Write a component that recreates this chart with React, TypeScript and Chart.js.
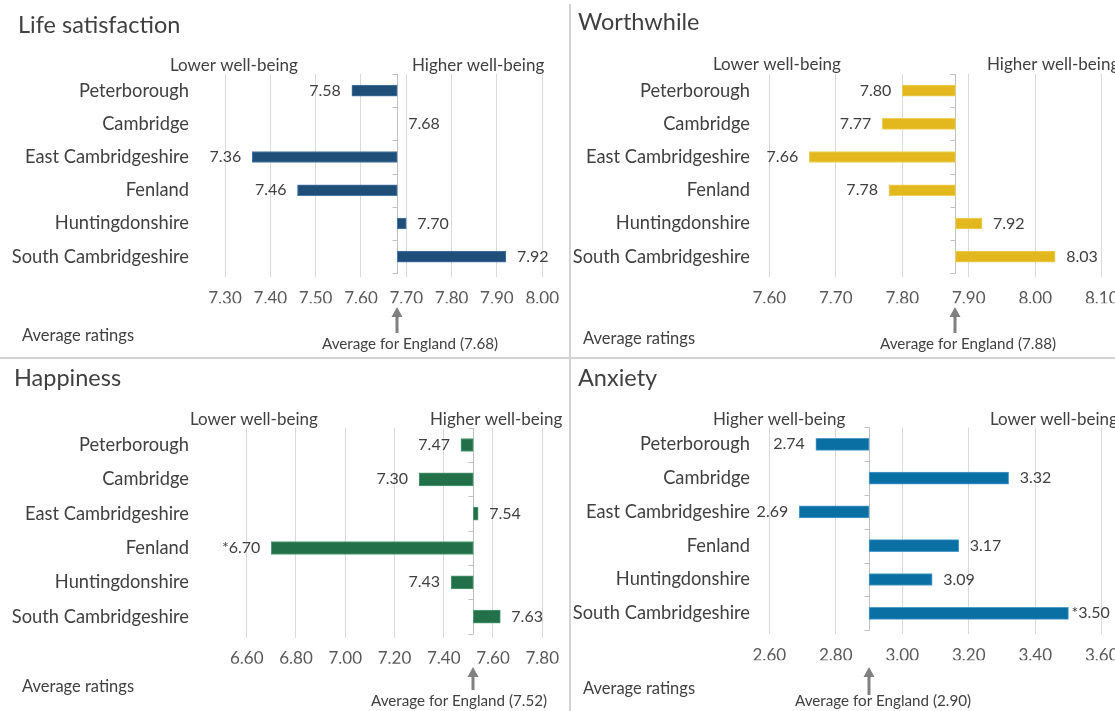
import React, { useEffect, useRef } from "react";
import { Chart, registerables } from "chart.js";

Chart.register(...registerables);

// ---------- data ----------
const districts = [
  "Peterborough",
  "Cambridge",
  "East Cambridgeshire",
  "Fenland",
  "Huntingdonshire",
  "South Cambridgeshire",
];

const lifeSatisfaction = [7.58, 7.68, 7.36, 7.46, 7.7, 7.92];
const worthwhile = [7.8, 7.77, 7.66, 7.78, 7.92, 8.03];
const happiness = [7.47, 7.3, 7.54, 6.7, 7.43, 7.63];
const anxiety = [2.74, 3.32, 2.69, 3.17, 3.09, 3.5];

const lifeEngland = 7.68;
const worthwhileEngland = 7.88;
const happinessEngland = 7.52;
const anxietyEngland = 2.9;

const noFlags = [false, false, false, false, false, false];
const happinessFlags = [false, false, false, true, false, false];
const anxietyFlags = [false, false, false, false, false, true];

// axis ranges: [min, max, step]
const lifeAxis = [7.3, 8.0, 0.1];
const worthwhileAxis = [7.6, 8.1, 0.1];
const happinessAxis = [6.6, 7.8, 0.2];
const anxietyAxis = [2.6, 3.6, 0.2];

const FONT = "Lato, 'Open Sans', sans-serif";
const TEXT = "#404040";

type PanelCfg = {
  title: string;
  values: number[];
  england: number;
  flags: boolean[];
  axis: number[];
  color: string;
  edge: string;
  leftText: string;
  rightText: string;
  left: number;
  top: number;
  width: number;
  height: number;
  area: { l: number; r: number; t: number; b: number };
  barThickness: number;
  titlePos: [number, number];
  leftTextPos: [number, number];
  rightTextPos: [number, number];
  catRight: number;
  avgPos: [number, number];
  engPos: [number, number];
  arrow: [number, number];
  flagGap: number;
};

function makeDecor(cfg: PanelCfg) {
  return {
    id: "decor",
    beforeDatasetsDraw(chart: any) {
      const { ctx, chartArea } = chart;
      const x = Math.round(chart.scales.x.getPixelForValue(cfg.england)) + 0.5;
      const n = chart.data.labels.length;
      const band = (chartArea.bottom - chartArea.top) / n;
      ctx.save();
      ctx.strokeStyle = "#bfbfbf";
      ctx.lineWidth = 1;
      ctx.beginPath();
      ctx.moveTo(x, chartArea.top);
      ctx.lineTo(x, chartArea.bottom);
      for (let i = 0; i <= n; i++) {
        const y = Math.round(chartArea.top + i * band) + 0.5;
        ctx.moveTo(x - 5, y);
        ctx.lineTo(x, y);
      }
      ctx.stroke();
      ctx.restore();
    },
    afterDraw(chart: any) {
      const { ctx } = chart;
      const xs = chart.scales.x;
      const ys = chart.scales.y;
      ctx.save();
      ctx.fillStyle = TEXT;
      ctx.textBaseline = "middle";

      // title
      ctx.font = `23.5px ${FONT}`;
      ctx.textAlign = "left";
      ctx.fillText(cfg.title, cfg.titlePos[0], cfg.titlePos[1]);

      // side texts
      ctx.font = `17px ${FONT}`;
      ctx.fillText(cfg.leftText, cfg.leftTextPos[0], cfg.leftTextPos[1]);
      ctx.fillText(cfg.rightText, cfg.rightTextPos[0], cfg.rightTextPos[1]);

      // category labels
      ctx.font = `18.3px ${FONT}`;
      ctx.textAlign = "right";
      districts.forEach((d, i) => {
        ctx.fillText(d, cfg.catRight, ys.getPixelForValue(i));
      });

      // value labels
      ctx.font = `16px ${FONT}`;
      const ex = xs.getPixelForValue(cfg.england);
      cfg.values.forEach((v, i) => {
        const y = ys.getPixelForValue(i);
        const px = xs.getPixelForValue(v);
        const label = (cfg.flags[i] ? "*" : "") + v.toFixed(2);
        if (v < cfg.england) {
          ctx.textAlign = "right";
          ctx.fillText(label, px - 11, y);
        } else {
          ctx.textAlign = "left";
          const gap = cfg.flags[i] ? cfg.flagGap : 11;
          ctx.fillText(label, Math.max(px, ex) + gap, y);
        }
      });

      // average ratings
      ctx.font = `16.5px ${FONT}`;
      ctx.textAlign = "left";
      ctx.fillText("Average ratings", cfg.avgPos[0], cfg.avgPos[1]);
      ctx.font = `15.2px ${FONT}`;
      ctx.fillText(
        `Average for England (${cfg.england.toFixed(2)})`,
        cfg.engPos[0],
        cfg.engPos[1]
      );

      // arrow
      const ax = Math.round(ex);
      const [tip, base] = cfg.arrow;
      ctx.fillStyle = "#808080";
      ctx.fillRect(ax - 1.5, tip + 8, 3, base - tip - 8);
      ctx.beginPath();
      ctx.moveTo(ax, tip);
      ctx.lineTo(ax - 5.5, tip + 10);
      ctx.lineTo(ax + 5.5, tip + 10);
      ctx.closePath();
      ctx.fill();
      ctx.restore();
    },
  };
}

function Panel({ cfg }: { cfg: PanelCfg }) {
  const ref = useRef<HTMLCanvasElement | null>(null);
  useEffect(() => {
    if (!ref.current) return;
    const axisH = 30;
    const chart = new Chart(ref.current, {
      type: "bar",
      data: {
        labels: districts,
        datasets: [
          {
            data: cfg.values.map((v) => [cfg.england, v]) as any,
            backgroundColor: cfg.color,
            borderColor: cfg.edge,
            borderWidth: 1,
            borderSkipped: false,
            barThickness: cfg.barThickness,
          },
        ],
      },
      options: {
        indexAxis: "y",
        responsive: false,
        animation: false,
        devicePixelRatio: 1,
        layout: {
          padding: {
            left: cfg.area.l,
            right: cfg.width - cfg.area.r,
            top: cfg.area.t,
            bottom: cfg.height - cfg.area.b - axisH,
          },
        },
        plugins: {
          legend: { display: false },
          tooltip: { enabled: false },
        },
        scales: {
          x: {
            min: cfg.axis[0],
            max: cfg.axis[1],
            ticks: {
              stepSize: cfg.axis[2],
              callback: (v: any) => Number(v).toFixed(2),
              color: "#595959",
              font: { family: FONT, size: 17 },
              padding: 11,
              maxRotation: 0,
              autoSkip: false,
            },
            grid: { color: "#d9d9d9", tickLength: 4 },
            border: { display: false },
            afterFit: (s: any) => {
              s.height = axisH;
            },
          },
          y: { display: false },
        },
      },
      plugins: [makeDecor(cfg)],
    });
    return () => chart.destroy();
  }, [cfg]);
  return (
    <canvas
      ref={ref}
      width={cfg.width}
      height={cfg.height}
      style={{
        position: "absolute",
        left: cfg.left,
        top: cfg.top,
        width: cfg.width,
        height: cfg.height,
      }}
    />
  );
}

const panels: PanelCfg[] = [
  {
    title: "Life satisfaction",
    values: lifeSatisfaction,
    england: lifeEngland,
    flags: noFlags,
    axis: lifeAxis,
    color: "#1f4e79",
    edge: "#4a78a6",
    leftText: "Lower well-being",
    rightText: "Higher well-being",
    left: 0,
    top: 0,
    width: 570,
    height: 358,
    area: { l: 225, r: 543.3, t: 74, b: 273.3 },
    barThickness: 11,
    titlePos: [18, 25],
    leftTextPos: [170, 66],
    rightTextPos: [412, 66],
    catRight: 189,
    avgPos: [22, 336],
    engPos: [322, 344],
    arrow: [307, 333],
    flagGap: 11,
  },
  {
    title: "Worthwhile",
    values: worthwhile,
    england: worthwhileEngland,
    flags: noFlags,
    axis: worthwhileAxis,
    color: "#e3b81e",
    edge: "#f0cf5a",
    leftText: "Lower well-being",
    rightText: "Higher well-being",
    left: 571,
    top: 0,
    width: 560,
    height: 358,
    area: { l: 198.3, r: 530.7, t: 74, b: 273.3 },
    barThickness: 11,
    titlePos: [7, 22],
    leftTextPos: [142, 65],
    rightTextPos: [416, 65],
    catRight: 179,
    avgPos: [12, 339],
    engPos: [309, 344],
    arrow: [307, 333],
    flagGap: 11,
  },
  {
    title: "Happiness",
    values: happiness,
    england: happinessEngland,
    flags: happinessFlags,
    axis: happinessAxis,
    color: "#22704a",
    edge: "#4f9a72",
    leftText: "Lower well-being",
    rightText: "Higher well-being",
    left: 0,
    top: 358,
    width: 570,
    height: 353,
    area: { l: 246.7, r: 544, t: 69.8, b: 275.8 },
    barThickness: 13,
    titlePos: [14, 20],
    leftTextPos: [190, 62],
    rightTextPos: [430, 62],
    catRight: 189,
    avgPos: [22, 329],
    engPos: [371, 343],
    arrow: [309, 332],
    flagGap: 11,
  },
  {
    title: "Anxiety",
    values: anxiety,
    england: anxietyEngland,
    flags: anxietyFlags,
    axis: anxietyAxis,
    color: "#0a6fa3",
    edge: "#4d9ccc",
    leftText: "Higher well-being",
    rightText: "Lower well-being",
    left: 571,
    top: 358,
    width: 560,
    height: 353,
    area: { l: 198.3, r: 530.7, t: 69.4, b: 272.2 },
    barThickness: 12,
    titlePos: [7, 20],
    leftTextPos: [142, 62],
    rightTextPos: [419, 62],
    catRight: 179,
    avgPos: [12, 331],
    engPos: [224, 343],
    arrow: [309, 337],
    flagGap: 3,
  },
];

export default function App() {
  return (
    <div
      style={{
        position: "fixed",
        left: 0,
        top: 0,
        width: 1115,
        height: 711,
        overflow: "hidden",
        background: "#ffffff",
      }}
    >
      {panels.map((p, i) => (
        <Panel key={i} cfg={p} />
      ))}
      <div
        style={{
          position: "absolute",
          left: 569,
          top: 4,
          width: 2,
          height: 707,
          background: "#d4d4d4",
        }}
      />
      <div
        style={{
          position: "absolute",
          left: 0,
          top: 357,
          width: 1115,
          height: 2,
          background: "#d4d4d4",
        }}
      />
    </div>
  );
}
